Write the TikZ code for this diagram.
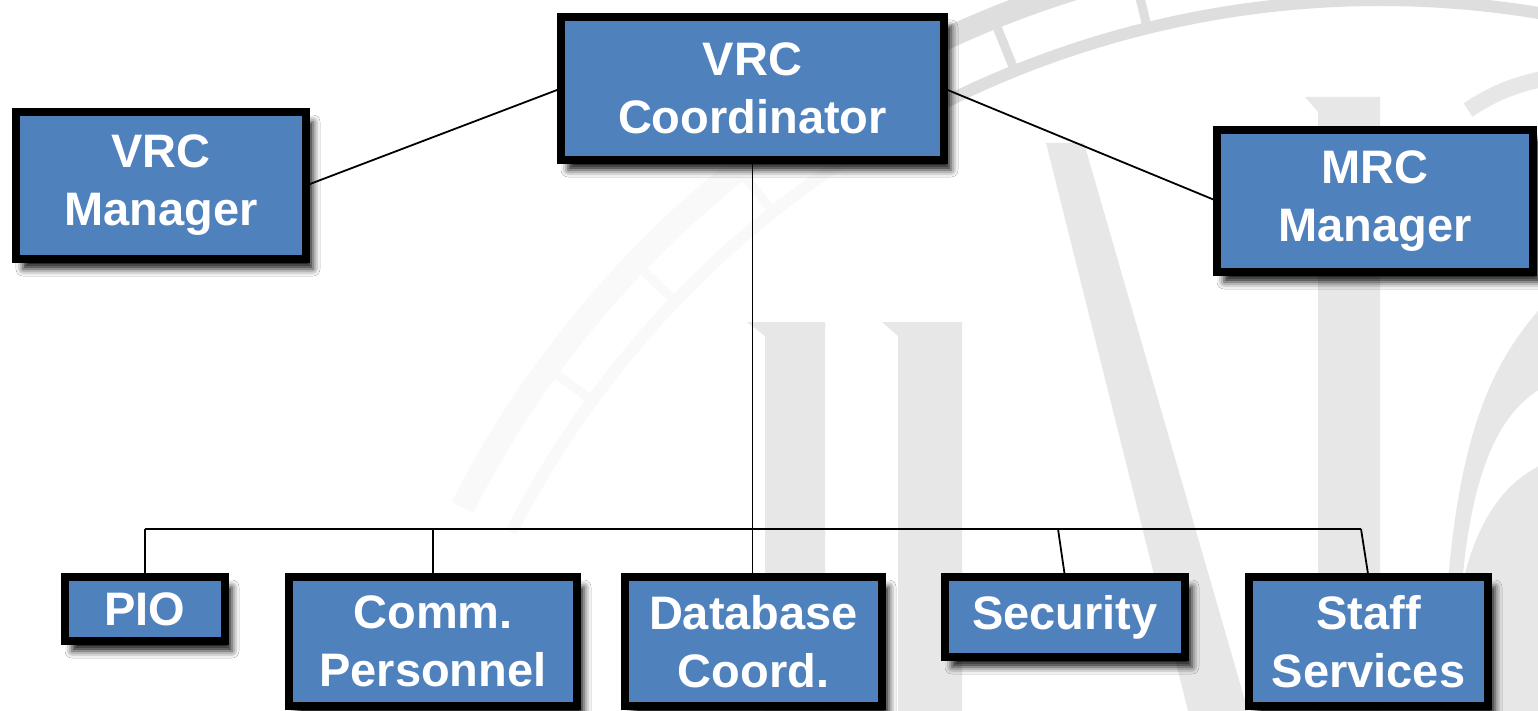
\documentclass[tikz,border=0pt]{standalone}
\usepackage{fontspec}
\setmainfont{Liberation Sans}
\usetikzlibrary{shadows.blur}
\definecolor{boxblue}{HTML}{4F81BD}
\definecolor{sealdark}{gray}{0.87}
\definecolor{seallight}{gray}{0.975}
\definecolor{letterg}{gray}{0.905}

\begin{document}
\begin{tikzpicture}[x=1pt,y=-1pt,
  orgbox/.style={draw=black, line width=8pt, fill=boxblue, text=white,
    inner sep=0pt, outer sep=0pt, align=center,
    font=\bfseries\fontsize{47}{58}\selectfont,
    blur shadow={shadow xshift=7pt, shadow yshift=-10pt,
      shadow blur radius=7pt, shadow opacity=90}},
  link/.style={draw=black, line width=1.8pt},
]
\useasboundingbox (0,0) rectangle (1538,711);

% faint seal in the background
\begin{scope}
  \clip (0,0) rectangle (1538,711);
  \fill[white] (0,0) rectangle (1538,711);
  % ring of the seal
  \begin{scope}[shift={(1380,975)}]
    \draw[seallight, line width=24pt] (207:1030) arc[start angle=207, end angle=238, radius=1030];
    \draw[seallight, line width=12pt] (207:975) arc[start angle=207, end angle=238, radius=975];
    \draw[sealdark, line width=22pt] (238:1032) arc[start angle=238, end angle=290, radius=1032];
    \draw[sealdark, line width=12pt] (238:975) arc[start angle=238, end angle=290, radius=975];
    \foreach \a in {216.1,223.7,231.5}
      \draw[seallight, line width=9pt] (\a:978) -- (\a:1022);
    \foreach \a in {240,248,256.2,264.3}
      \draw[sealdark, line width=9pt] (\a:978) -- (\a:1022);
  \end{scope}
  % letter stems
  \fill[letterg] (765,336) -- (747,322) -- (825,322) -- (825,711) -- (765,711) -- cycle;
  \fill[letterg] (898,336) -- (882,322) -- (962,322) -- (962,711) -- (898,711) -- cycle;
  \fill[letterg] (1046,143) -- (1084,143) -- (1248,711) -- (1188,711) -- cycle;
  \fill[letterg] (1318,112) -- (1305,97) -- (1380,97) -- (1380,711) -- (1318,711) -- cycle;
  % curved strokes at the right
  \draw[letterg, line width=16pt] (1468,110) .. controls (1492,94) and (1515,84) .. (1548,78);
  \fill[letterg] (1548,300) .. controls (1482,370) and (1446,460) .. (1442,711)
     -- (1548,711) -- cycle;
  \fill[white] (1548,385) .. controls (1500,408) and (1472,470) .. (1462,585)
     .. controls (1478,515) and (1508,478) .. (1548,462) -- cycle;
\end{scope}

% boxes
\node[orgbox, minimum width=383pt, minimum height=143pt] (coord) at (752.5,88.5) {VRC\\Coordinator};
\node[orgbox, minimum width=290pt, minimum height=147pt] (vrcm) at (161,185.5) {VRC\\Manager};
\node[orgbox, minimum width=316pt, minimum height=142pt] (mrcm) at (1375,201) {MRC\\Manager};
\node[orgbox, minimum width=160pt, minimum height=64pt] (pio) at (145,609) {PIO};
\node[orgbox, minimum width=288pt, minimum height=129pt] (comm) at (433,641.5) {Comm.\\Personnel};
\node[orgbox, minimum width=257pt, minimum height=129pt] (db) at (753.5,641.5) {Database\\Coord.};
\node[orgbox, minimum width=240pt, minimum height=80pt] (sec) at (1065,617) {Security};
\node[orgbox, minimum width=239pt, minimum height=129pt] (staff) at (1368.5,641.5) {Staff\\Services};

% connectors
\coordinate (busL) at (145,529);
\coordinate (busR) at (1361,529);
\coordinate (secTop) at (1058,529);
\draw[link] (vrcm.east) -- (coord.west);
\draw[link] (coord.east) -- (mrcm.west);
\draw[link] (coord.south) -- (coord.south |- db.north);
\draw[link] (busL) -- (busR);
\draw[link] (busL) -- (pio.north);
\draw[link] (comm.north |- busL) -- (comm.north);
\draw[link] (secTop) -- (sec.north);
\draw[link] (busR) -- (staff.north);
\end{tikzpicture}
\end{document}
